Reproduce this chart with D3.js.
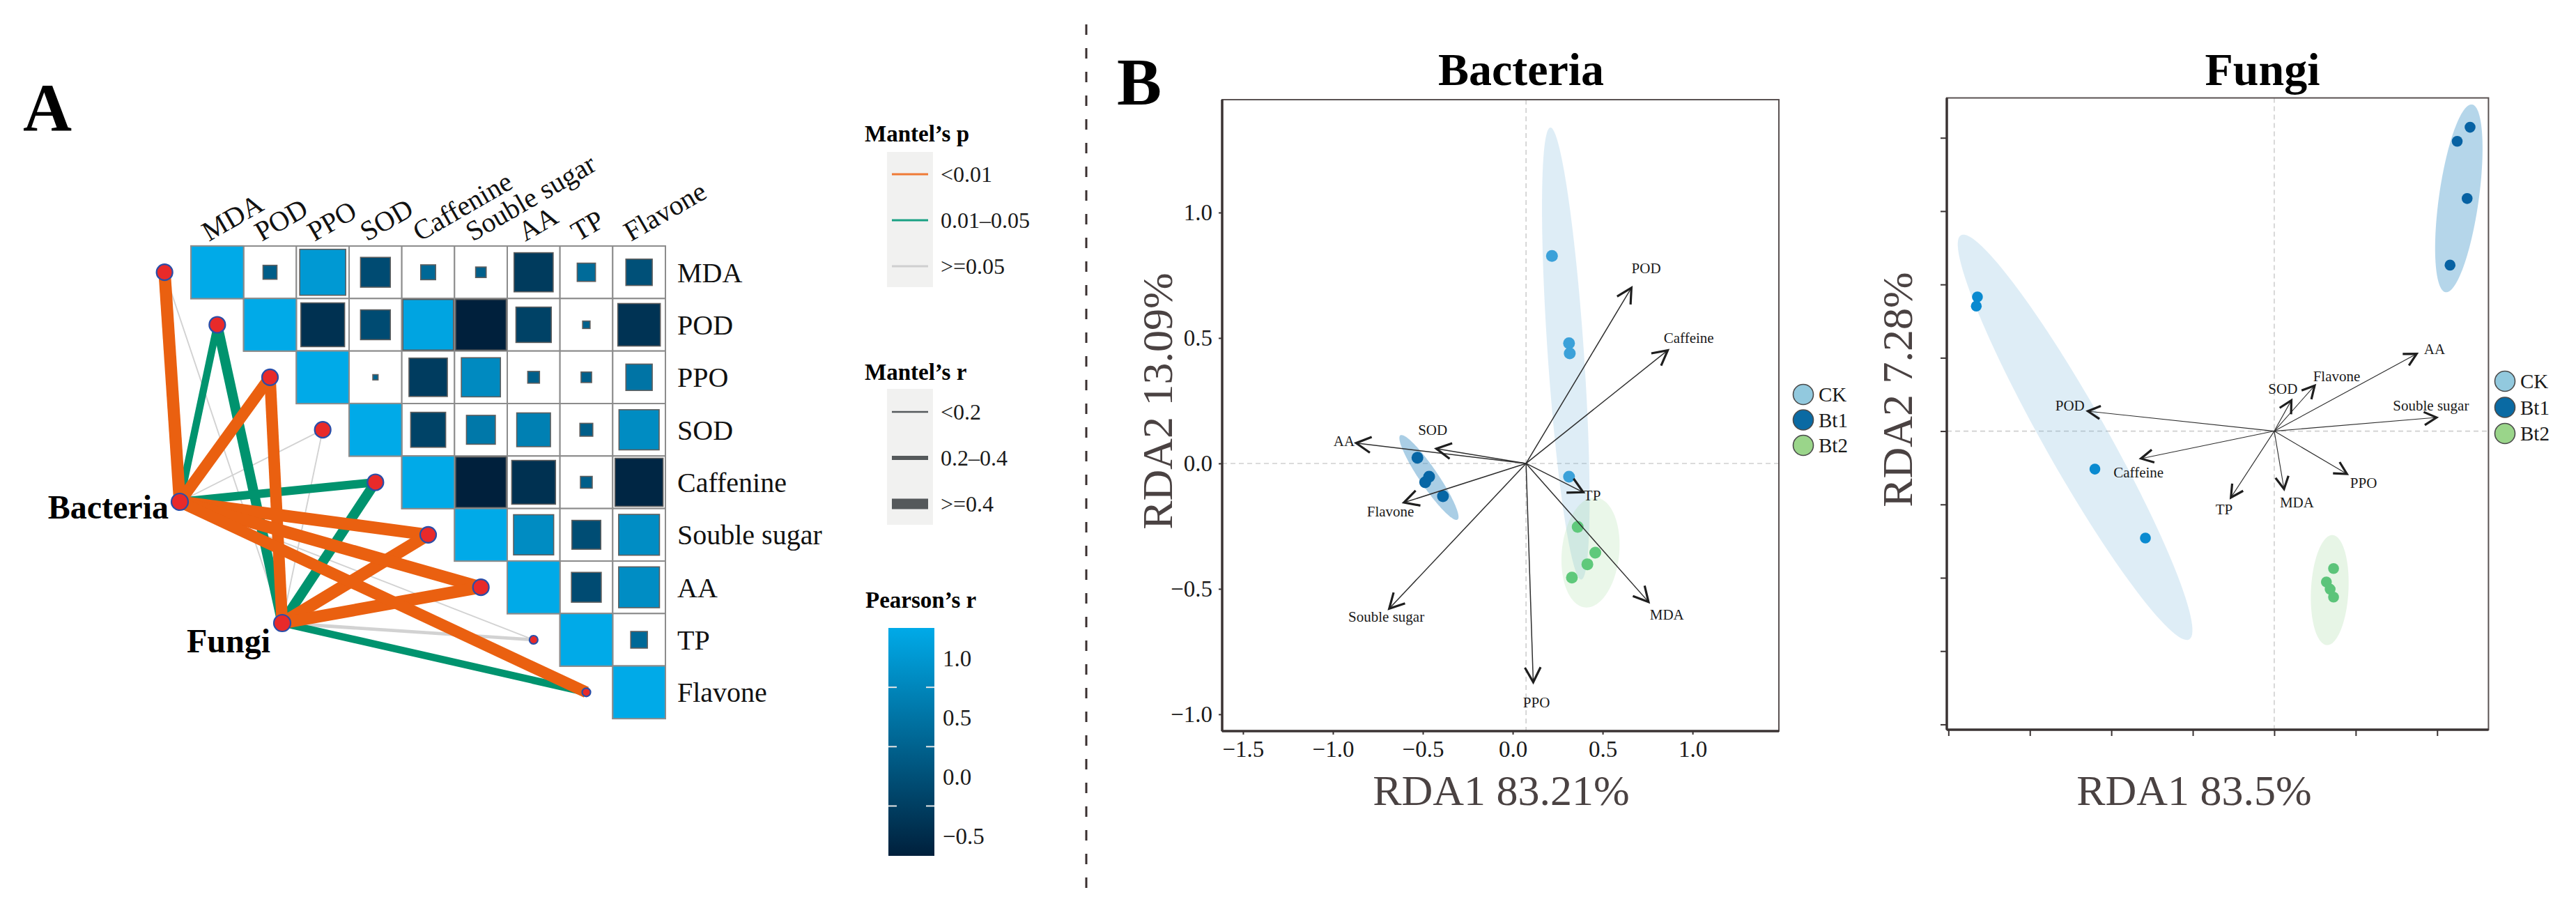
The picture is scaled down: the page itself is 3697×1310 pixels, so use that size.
<!DOCTYPE html>
<html><head><meta charset="utf-8">
<script src="https://cdn.jsdelivr.net/npm/d3@7"></script>
<style>
body{margin:0;background:#fff}
svg{display:block;background:#fff}
text{font-family:"Liberation Serif","Times New Roman",serif}
</style>
</head><body>
<svg id="c" width="3697" height="1310"></svg>
<script>
// ================= DATA =================
const envVars = ["MDA","POD","PPO","SOD","Caffenine","Souble sugar","AA","TP","Flavone"];
// Pearson's r, upper triangle, each row starts at its diagonal
const pearsonMDA = [1, -0.07, 0.76, -0.32, 0.08, -0.04, -0.55, 0.12, -0.25];
const pearsonPOD = [1, -0.69, -0.32, 0.92, -0.92, -0.45, -0.02, -0.65];
const pearsonPPO = [1, 0.01, -0.53, 0.55, -0.05, -0.04, 0.25];
const pearsonSOD = [1, -0.44, 0.30, 0.41, -0.06, 0.58];
const pearsonCaf = [1, -0.92, -0.69, -0.05, -0.83];
const pearsonSug = [1, 0.58, -0.30, 0.60];
const pearsonAA  = [1, -0.32, 0.60];
const pearsonTP  = [1, 0.10];
const pearsonFla = [1];

const mantelSpecies = ["Bacteria","Fungi"];
const mantelRBacteria = [0.55, 0.33, 0.52, 0.06, 0.38, 0.55, 0.55, 0.06, 0.52];
const mantelPBacteria = [0.001, 0.03, 0.004, 0.35, 0.02, 0.002, 0.003, 0.40, 0.006];
const mantelRFungi    = [0.06, 0.45, 0.52, 0.06, 0.45, 0.55, 0.55, 0.15, 0.33];
const mantelPFungi    = [0.50, 0.02, 0.004, 0.30, 0.03, 0.003, 0.001, 0.20, 0.04];

const mantelPLabels = ["<0.01","0.01\u20130.05",">=0.05"];
const mantelRLabels = ["<0.2","0.2\u20130.4",">=0.4"];
const mantelRKeyValues = [0.1, 0.3, 0.5];
const pearsonTickLabels = [1.0, 0.5, 0.0, -0.5];
const pearsonTickMarks = [0.5, 0.0, -0.5];

// RDA - Bacteria
const groups = ["CK","Bt1","Bt2"];
const bacteriaCK  = [[0.218,0.827],[0.313,0.479],[0.317,0.439],[0.313,-0.053]];
const bacteriaBt1 = [[-0.530,0.023],[-0.465,-0.053],[-0.487,-0.075],[-0.388,-0.131]];
const bacteriaBt2 = [[0.361,-0.253],[0.459,-0.356],[0.415,-0.402],[0.329,-0.455]];
// ellipse: centre x, centre y, half major axis dx, dy, minor/major ratio
const bacteriaEllCK  = [0.295, 0.438, -0.086, 0.901, 0.08];
const bacteriaEllBt1 = [-0.466, -0.056, -0.159, 0.168, 0.18];
const bacteriaEllBt2 = [0.4325, -0.355, 0.0305, 0.219, 0.52];
const bacteriaOrigin = [0.074, 0];
const bacteriaArrowNames = ["POD","Caffeine","AA","SOD","Flavone","Souble sugar","TP","MDA","PPO"];
const bacteriaArrowX = [0.660, 0.862, -0.871, -0.425, -0.605, -0.687, 0.392, 0.755, 0.114];
const bacteriaArrowY = [0.700, 0.451, 0.081, 0.059, -0.156, -0.579, -0.115, -0.552, -0.872];
const bacteriaLabelX = [0.742, 0.979, -0.938, -0.445, -0.680, -0.703, 0.442, 0.857, 0.132];
const bacteriaLabelY = [0.778, 0.500, 0.089, 0.134, -0.192, -0.611, -0.126, -0.602, -0.952];
const bacteriaXTicks = [-1.5, -1.0, -0.5, 0.0, 0.5, 1.0];
const bacteriaYTicks = [-1.0, -0.5, 0.0, 0.5, 1.0];

// RDA - Fungi
const fungiCK  = [[-1.822,0.915],[-1.829,0.852],[-1.101,-0.259],[-0.791,-0.729]];
const fungiBt1 = [[1.202,2.072],[1.123,1.976],[1.184,1.586],[1.079,1.132]];
const fungiBt2 = [[0.364,-0.937],[0.320,-1.029],[0.343,-1.078],[0.364,-1.132]];
const fungiEllCK  = [-1.2225, -0.042, -0.7005, 1.378, 0.135];
const fungiEllBt1 = [1.133, 1.587, 0.081, 0.640, 0.21];
const fungiEllBt2 = [0.3405, -1.084, 0.0175, 0.375, 0.34];
const fungiOrigin = [0, 0];
const fungiArrowNames = ["AA","Flavone","SOD","Souble sugar","POD","Caffeine","TP","MDA","PPO"];
const fungiArrowX = [0.874, 0.248, 0.105, 0.996, -1.144, -0.818, -0.266, 0.060, 0.446];
const fungiArrowY = [0.527, 0.310, 0.210, 0.093, 0.136, -0.187, -0.453, -0.395, -0.292];
const fungiLabelX = [0.984, 0.383, 0.053, 0.962, -1.254, -0.833, -0.308, 0.139, 0.548];
const fungiLabelY = [0.560, 0.377, 0.290, 0.177, 0.177, -0.282, -0.532, -0.487, -0.354];
const fungiXTicks = [-2.0, -1.5, -1.0, -0.5, 0.0, 0.5, 1.0];
const fungiYTicks = [-2.0, -1.5, -1.0, -0.5, 0.0, 0.5, 1.0, 1.5, 2.0];

// ================= DRAW =================
const svg = d3.select("#c");

// panel letters
svg.append("text").attr("x",33).attr("y",187).attr("font-size",97).attr("font-weight","bold").text("A");
svg.append("text").attr("x",1603).attr("y",150).attr("font-size",96).attr("font-weight","bold").text("B");

// separator
svg.append("line").attr("x1",1559).attr("x2",1559).attr("y1",35).attr("y2",1292)
  .attr("stroke","#3a3030").attr("stroke-width",3).attr("stroke-dasharray","15,19");

// ---------- Panel A : heatmap ----------
const pearsonRows = [pearsonMDA,pearsonPOD,pearsonPPO,pearsonSOD,pearsonCaf,pearsonSug,pearsonAA,pearsonTP,pearsonFla];
const xb = d3.scaleBand().domain(envVars).range([274,955]);
const yb = d3.scaleBand().domain(envVars).range([353,1031]);
const cw = xb.bandwidth(), ch = yb.bandwidth();
const colorR = d3.scaleLinear().domain([-0.92,1]).range(["#00203c","#00aae8"]).clamp(true);
const sideR = d3.scaleSqrt().domain([0,1]).range([0,cw]).clamp(true);

const cells = [];
pearsonRows.forEach((row,i)=>row.forEach((r,k)=>cells.push({row:envVars[i], col:envVars[i+k], r, diag:k===0})));

// network (behind)
const nodePos = v => [xb(v) - cw/2, yb(v) + ch/2];
const speciesPos = {Bacteria:[258,720], Fungi:[405,894]};
const pColor = p => p < 0.01 ? "#ea6010" : (p < 0.05 ? "#00936e" : "#d2d2d2");
const pRank = p => p < 0.01 ? 2 : (p < 0.05 ? 1 : 0);
const widthR = d3.scaleLinear().domain([0.05,0.55]).range([1.6,17.5]).clamp(true);
const edges = [];
envVars.forEach((v,i)=>{
  edges.push({sp:"Bacteria", env:v, r:mantelRBacteria[i], p:mantelPBacteria[i]});
  edges.push({sp:"Fungi", env:v, r:mantelRFungi[i], p:mantelPFungi[i]});
});
edges.sort((a,b)=>pRank(a.p)-pRank(b.p));
const gNet = svg.append("g");
gNet.selectAll("line").data(edges).join("line")
  .attr("x1",d=>speciesPos[d.sp][0]).attr("y1",d=>speciesPos[d.sp][1])
  .attr("x2",d=>nodePos(d.env)[0]).attr("y2",d=>nodePos(d.env)[1])
  .attr("stroke",d=>pColor(d.p)).attr("stroke-width",d=>widthR(d.r))
  .attr("stroke-linecap","butt");
gNet.selectAll("circle.env").data(envVars).join("circle").attr("class","env")
  .attr("cx",v=>nodePos(v)[0]).attr("cy",v=>nodePos(v)[1])
  .attr("r",(v,i)=> i>=7 ? 6 : 11.5)
  .attr("fill","#e82a2a").attr("stroke","#2a4ea8").attr("stroke-width",2.2);
gNet.selectAll("circle.sp").data(mantelSpecies).join("circle").attr("class","sp")
  .attr("cx",s=>speciesPos[s][0]).attr("cy",s=>speciesPos[s][1]).attr("r",12)
  .attr("fill","#e82a2a").attr("stroke","#2a4ea8").attr("stroke-width",2.2);
gNet.append("text").attr("x",242).attr("y",744).attr("text-anchor","end")
  .attr("font-size",48).attr("font-weight","bold").text("Bacteria");
gNet.append("text").attr("x",268).attr("y",936)
  .attr("font-size",48).attr("font-weight","bold").text("Fungi");

// heatmap cells
const gH = svg.append("g");
gH.selectAll("rect.cell").data(cells).join("rect").attr("class","cell")
  .attr("x",d=>xb(d.col)).attr("y",d=>yb(d.row)).attr("width",cw).attr("height",ch)
  .attr("fill","#fff").attr("stroke","#8c8c8c").attr("stroke-width",2);
gH.selectAll("rect.sq").data(cells).join("rect").attr("class","sq")
  .attr("x",d=>xb(d.col)+(cw-sideR(Math.abs(d.r)))/2)
  .attr("y",d=>yb(d.row)+(ch-sideR(Math.abs(d.r)))/2)
  .attr("width",d=>sideR(Math.abs(d.r))).attr("height",d=>sideR(Math.abs(d.r)))
  .attr("fill",d=>colorR(d.r))
  .attr("stroke",d=>d.diag ? "#8c8c8c" : "#5e5e5e").attr("stroke-width",d=>d.diag?2:1.6);
// column labels
gH.selectAll("text.col").data(envVars).join("text").attr("class","col")
  .attr("transform",v=>`translate(${xb(v)+cw/2-12},${yb.range()[0]-6}) rotate(-30)`)
  .attr("font-size",40).attr("fill","#111").text(v=>v);
// row labels
gH.selectAll("text.row").data(envVars).join("text").attr("class","row")
  .attr("x",972).attr("y",v=>yb(v)+ch/2).attr("dy","0.35em")
  .attr("font-size",40).attr("fill","#111").text(v=>v);

// ---------- Panel A legends ----------
const gL = svg.append("g");
gL.append("text").attr("x",1241).attr("y",203).attr("font-size",33).attr("font-weight","bold").text("Mantel\u2019s p");
gL.append("rect").attr("x",1273).attr("y",218).attr("width",66).attr("height",194).attr("fill","#f1f1f0");
const pKeyColors = ["#ef7b36","#1aa184","#cfcfcf"];
mantelPLabels.forEach((lab,i)=>{
  const y = 250 + i*66;
  gL.append("line").attr("x1",1280).attr("x2",1332).attr("y1",y).attr("y2",y)
    .attr("stroke",pKeyColors[i]).attr("stroke-width",3);
  gL.append("text").attr("x",1350).attr("y",y).attr("dy","0.35em").attr("font-size",32).attr("fill","#1a1a1a").text(lab);
});
gL.append("text").attr("x",1241).attr("y",545).attr("font-size",33).attr("font-weight","bold").text("Mantel\u2019s r");
gL.append("rect").attr("x",1273).attr("y",558).attr("width",66).attr("height",195).attr("fill","#f1f1f0");
const rKeyWidth = d3.scaleThreshold().domain([0.2,0.4]).range([2.6,6,15]);
mantelRLabels.forEach((lab,i)=>{
  const y = 591 + i*66;
  gL.append("line").attr("x1",1280).attr("x2",1332).attr("y1",y).attr("y2",y)
    .attr("stroke","#55595b").attr("stroke-width",rKeyWidth(mantelRKeyValues[i]));
  gL.append("text").attr("x",1350).attr("y",y).attr("dy","0.35em").attr("font-size",32).attr("fill","#1a1a1a").text(lab);
});
gL.append("text").attr("x",1242).attr("y",872).attr("font-size",33).attr("font-weight","bold").text("Pearson\u2019s r");
const cbY = d3.scaleLinear().domain([-0.92,1]).range([1228,901]);
const grad = svg.append("defs").append("linearGradient").attr("id","cbg")
  .attr("x1",0).attr("y1",1).attr("x2",0).attr("y2",0);
grad.append("stop").attr("offset","0%").attr("stop-color",colorR(-0.92));
grad.append("stop").attr("offset","100%").attr("stop-color",colorR(1));
gL.append("rect").attr("x",1275).attr("y",901).attr("width",66).attr("height",327).attr("fill","url(#cbg)");
pearsonTickMarks.forEach(v=>{
  gL.append("line").attr("x1",1275).attr("x2",1287).attr("y1",cbY(v)).attr("y2",cbY(v)).attr("stroke","#e6e6e6").attr("stroke-width",2);
  gL.append("line").attr("x1",1329).attr("x2",1341).attr("y1",cbY(v)).attr("y2",cbY(v)).attr("stroke","#e6e6e6").attr("stroke-width",2);
});
const fmt1 = d3.format(".1f");
pearsonTickLabels.forEach(v=>{
  gL.append("text").attr("x",1353).attr("y",cbY(v)+43).attr("dy","0.35em").attr("font-size",33).attr("fill","#1a1a1a").text(fmt1(v));
});

// ---------- Panel B : RDA plots ----------
function drawRDA(cfg){
  const g = svg.append("g");
  const sx = d3.scaleLinear().domain(cfg.xDomain).range([cfg.left, cfg.right]);
  const sy = d3.scaleLinear().domain(cfg.yDomain).range([cfg.bottom, cfg.top]);
  // title
  g.append("text").attr("x",cfg.titleX).attr("y",122).attr("text-anchor","middle")
    .attr("font-size",66).attr("font-weight","bold").text(cfg.title);
  // guide lines
  const ox = sx(cfg.origin[0]), oy = sy(cfg.origin[1]);
  g.append("line").attr("x1",ox).attr("x2",ox).attr("y1",cfg.top).attr("y2",cfg.bottom)
    .attr("stroke","#cfcfcf").attr("stroke-width",1.6).attr("stroke-dasharray","7,5");
  g.append("line").attr("x1",cfg.left).attr("x2",cfg.right).attr("y1",oy).attr("y2",oy)
    .attr("stroke","#cfcfcf").attr("stroke-width",1.6).attr("stroke-dasharray","7,5");
  // ellipses
  const ellFill = cfg.ellFill;
  cfg.ellipses.forEach((e,k)=>{
    const cx = sx(e[0]), cy = sy(e[1]);
    const mx = sx(e[0]+e[2]) - cx, my = sy(e[1]+e[3]) - cy;
    const nx = -my*e[4], ny = mx*e[4];
    const pts = d3.range(0,361,3).map(a=>{
      const t = a*Math.PI/180;
      return [cx + mx*Math.cos(t) + nx*Math.sin(t), cy + my*Math.cos(t) + ny*Math.sin(t)];
    });
    g.append("path").attr("d",d3.line()(pts)+"Z").attr("fill",ellFill[k][0]).attr("fill-opacity",ellFill[k][1]);
  });
  // points
  cfg.points.forEach((pts,k)=>{
    g.selectAll(null).data(pts).join("circle")
      .attr("cx",d=>sx(d[0])).attr("cy",d=>sy(d[1])).attr("r",cfg.pointR)
      .attr("fill",cfg.pointColors[k]);
  });
  // arrows
  cfg.arrowNames.forEach((name,i)=>{
    const tx = sx(cfg.arrowX[i]), ty = sy(cfg.arrowY[i]);
    g.append("line").attr("x1",ox).attr("y1",oy).attr("x2",tx).attr("y2",ty)
      .attr("stroke","#2e2e2e").attr("stroke-width",cfg.shaftW);
    const ang = Math.atan2(ty-oy, tx-ox);
    const L = cfg.headL, h = 28*Math.PI/180;
    const p1 = [tx - L*Math.cos(ang-h), ty - L*Math.sin(ang-h)];
    const p2 = [tx - L*Math.cos(ang+h), ty - L*Math.sin(ang+h)];
    g.append("path").attr("d",`M${p1[0]},${p1[1]}L${tx},${ty}L${p2[0]},${p2[1]}`)
      .attr("fill","none").attr("stroke","#1e1e1e").attr("stroke-width",3.2)
      .attr("stroke-linejoin","miter");
    g.append("text").attr("x",sx(cfg.labelX[i])).attr("y",sy(cfg.labelY[i])).attr("dy","0.35em")
      .attr("text-anchor","middle").attr("font-size",21).attr("fill","#1a1a1a").text(name);
  });
  // frame
  g.append("rect").attr("x",cfg.left).attr("y",cfg.top).attr("width",cfg.right-cfg.left).attr("height",cfg.bottom-cfg.top)
    .attr("fill","none").attr("stroke","#5a5252").attr("stroke-width",2);
  g.append("line").attr("x1",cfg.left).attr("x2",cfg.left).attr("y1",cfg.top).attr("y2",cfg.bottom)
    .attr("stroke","#3a3333").attr("stroke-width",3.5);
  g.append("line").attr("x1",cfg.left).attr("x2",cfg.right).attr("y1",cfg.bottom).attr("y2",cfg.bottom)
    .attr("stroke","#3a3333").attr("stroke-width",3.5);
  // axes
  const ax = g.append("g").attr("transform",`translate(0,${cfg.bottom})`)
    .call(d3.axisBottom(sx).tickValues(cfg.xTicks).tickSize(cfg.tickLen).tickPadding(9)
      .tickFormat(cfg.showLabels ? d3.format(".1f") : ""));
  const ay = g.append("g").attr("transform",`translate(${cfg.left},0)`)
    .call(d3.axisLeft(sy).tickValues(cfg.yTicks).tickSize(cfg.tickLen).tickPadding(9)
      .tickFormat(cfg.showLabels ? d3.format(".1f") : ""));
  [ax,ay].forEach(a=>{
    a.select(".domain").remove();
    a.selectAll(".tick line").attr("stroke","#3a3333").attr("stroke-width",2);
    a.selectAll(".tick text").attr("font-size",33).attr("fill","#1a1a1a")
      .attr("font-family",'"Liberation Serif","Times New Roman",serif');
  });
  // axis titles
  g.append("text").attr("x",cfg.xLabelX).attr("y",1155).attr("text-anchor","middle")
    .attr("font-size",62).attr("fill","#4a4242").text(cfg.xLabel);
  g.append("text").attr("transform",`translate(${cfg.yLabelX},${cfg.yLabelY}) rotate(-90)`)
    .attr("text-anchor","middle").attr("font-size",62).attr("fill","#4a4242").text(cfg.yLabel);
  // legend
  groups.forEach((grp,k)=>{
    const y = cfg.legendY + k*cfg.legendStep;
    g.append("circle").attr("cx",cfg.legendX).attr("cy",y).attr("r",14.5)
      .attr("fill",cfg.legendColors[k]).attr("stroke","#4a4a4a").attr("stroke-width",1.6);
    g.append("text").attr("x",cfg.legendX+22).attr("y",y).attr("dy","0.35em")
      .attr("font-size",29).attr("fill","#1a1a1a").text(grp);
  });
}

drawRDA({
  title:"Bacteria", titleX:2183,
  left:1754, right:2553, top:143, bottom:1049,
  xDomain:[-1.616,1.48], yDomain:[-1.067,1.45],
  origin:bacteriaOrigin,
  ellipses:[bacteriaEllCK,bacteriaEllBt1,bacteriaEllBt2],
  ellFill:[["#6baed6",0.22],["#4292c6",0.45],["#a1d99b",0.22]],
  points:[bacteriaCK,bacteriaBt1,bacteriaBt2],
  pointColors:["#3ba1d9","#0766a5","#5fc97b"], pointR:8.5,
  arrowNames:bacteriaArrowNames, arrowX:bacteriaArrowX, arrowY:bacteriaArrowY,
  labelX:bacteriaLabelX, labelY:bacteriaLabelY,
  shaftW:1.5, headL:24,
  xTicks:bacteriaXTicks, yTicks:bacteriaYTicks, tickLen:5, showLabels:true,
  xLabel:"RDA1 83.21%", xLabelX:2154.5,
  yLabel:"RDA2 13.09%", yLabelX:1682, yLabelY:575.5,
  legendX:2588, legendY:566, legendStep:36.5,
  legendColors:["#92c9de","#0a6aa3","#9ad58a"]
});

drawRDA({
  title:"Fungi", titleX:3247,
  left:2794, right:3571.4, top:140.5, bottom:1047,
  xDomain:[-2.01,1.315], yDomain:[-2.036,2.272],
  origin:fungiOrigin,
  ellipses:[fungiEllCK,fungiEllBt1,fungiEllBt2],
  ellFill:[["#6baed6",0.22],["#6baed6",0.5],["#a1d99b",0.25]],
  points:[fungiCK,fungiBt1,fungiBt2],
  pointColors:["#0a8ad0","#0762a3","#5cc47a"], pointR:7.8,
  arrowNames:fungiArrowNames, arrowX:fungiArrowX, arrowY:fungiArrowY,
  labelX:fungiLabelX, labelY:fungiLabelY,
  shaftW:1.1, headL:20,
  xTicks:fungiXTicks, yTicks:fungiYTicks, tickLen:9, showLabels:false,
  xLabel:"RDA1 83.5%", xLabelX:3149,
  yLabel:"RDA2 7.28%", yLabelX:2744, yLabelY:559,
  legendX:3595, legendY:547, legendStep:37.5,
  legendColors:["#92c9de","#0a6aa3","#9ad58a"]
});
</script>
</body></html>
